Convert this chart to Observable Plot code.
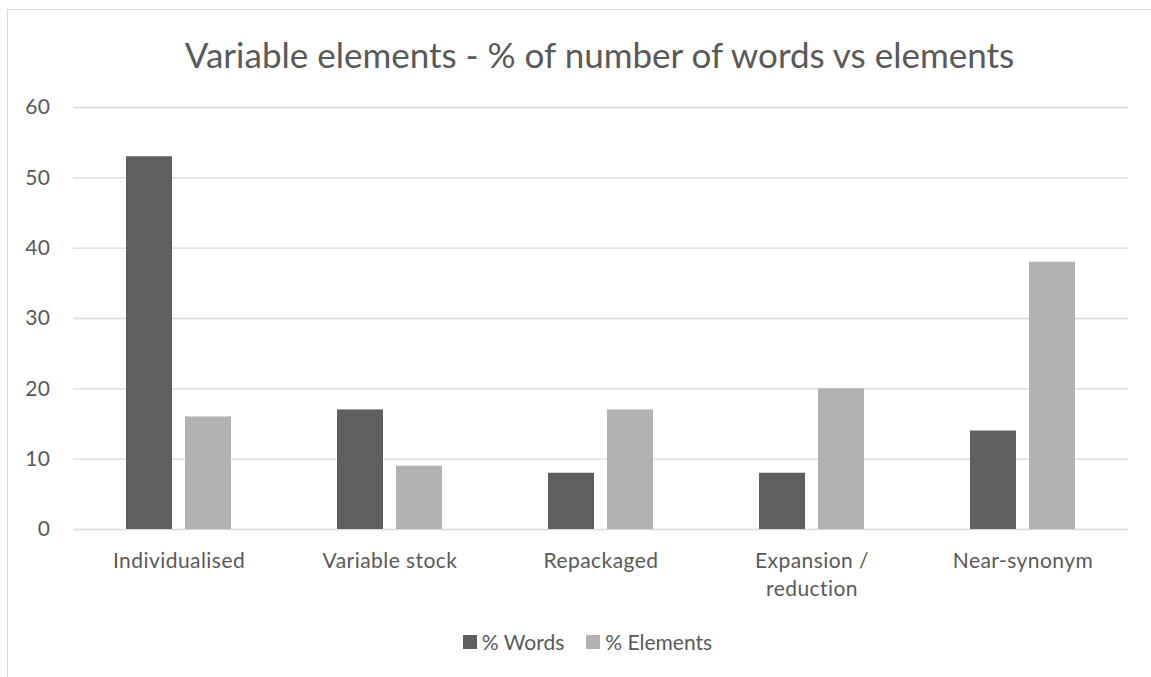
<!DOCTYPE html>
<html>
<head>
<meta charset="utf-8">
<script src="https://cdn.jsdelivr.net/npm/d3@7"></script>
<script src="https://cdn.jsdelivr.net/npm/@observablehq/plot@0.6"></script>
<style>
  html, body { margin: 0; padding: 0; background: #fff; }
  body { width: 1151px; height: 677px; overflow: hidden; position: relative; font-family: Lato, "Open Sans", sans-serif; color: #595959; }
  #frame { position: absolute; left: 7px; top: 9px; width: 1300px; height: 800px; border-left: 1px solid #d9d9d9; border-top: 1px solid #d9d9d9; pointer-events: none; }
  #title { position: absolute; left: 24px; top: 0; width: 1151px; text-align: center; font-size: 35px; line-height: 40px; padding-top: 34px; }
  #chart { position: absolute; left: 0; top: 90px; }
  #legend { position: absolute; left: 0; top: 629px; width: 1151px; display: flex; justify-content: center; align-items: center; font-size: 21px; line-height: 26px; padding-left: 24px; box-sizing: border-box; }
  .item { display: flex; align-items: center; margin: 0 11px; }
  .sw { width: 14px; height: 14px; margin-right: 5px; }
  #chart svg text { letter-spacing: 0.45px; }
</style>
</head>
<body>
<div id="frame"></div>
<div id="title">Variable elements - % of number of words vs elements</div>
<div id="chart"></div>
<div id="legend"></div>
<script>
const categories = ["Individualised", "Variable stock", "Repackaged", "Expansion / reduction", "Near-synonym"];
const categoryLabels = ["Individualised", "Variable stock", "Repackaged", "Expansion /\nreduction", "Near-synonym"];
const seriesNames = ["% Words", "% Elements"];
const wordsValues = [53, 17, 8, 8, 14];
const elementsValues = [16, 9, 17, 20, 38];
const yTicks = [0, 10, 20, 30, 40, 50, 60];
const seriesColors = ["#5f5f5f", "#b2b2b2"];

const data = [];
categories.forEach((c, i) => {
  data.push({category: c, series: seriesNames[0], value: wordsValues[i]});
  data.push({category: c, series: seriesNames[1], value: elementsValues[i]});
});
const labelOf = Object.fromEntries(categories.map((c, i) => [c, categoryLabels[i]]));

const W = 1151, H = 520;
const plot = Plot.plot({
  width: W,
  height: H,
  marginLeft: 71,
  marginRight: 21,
  marginTop: 17,
  marginBottom: 81,
  style: {fontFamily: "Lato, 'Open Sans', sans-serif", color: "#595959", background: "transparent"},
  fx: {domain: categories, padding: 0, label: null, axis: null},
  x: {domain: seriesNames, paddingInner: 0.217, paddingOuter: 0.873, axis: null},
  y: {domain: [0, 60], ticks: yTicks, label: null, axis: null},
  color: {domain: seriesNames, range: seriesColors},
  marks: [
    Plot.ruleY(yTicks, {stroke: "#d9d9d9", strokeWidth: 1.3}),
    Plot.barY(data, {fx: "category", x: "series", y: "value", fill: "series"}),
    Plot.axisY(yTicks, {anchor: "left", tickSize: 0, tickPadding: 23, fontSize: 21, fill: "#595959", label: null}),
    Plot.axisFx({anchor: "bottom", tickSize: 0, tickPadding: 19, fontSize: 21, fill: "#595959", lineHeight: 1.33, label: null, tickFormat: d => labelOf[d]})
  ]
});
document.getElementById("chart").appendChild(plot);

const legend = document.getElementById("legend");
seriesNames.forEach((s, i) => {
  const item = document.createElement("div");
  item.className = "item";
  const sw = document.createElement("div");
  sw.className = "sw";
  sw.style.background = seriesColors[i];
  const t = document.createElement("span");
  t.textContent = s;
  item.appendChild(sw);
  item.appendChild(t);
  legend.appendChild(item);
});
</script>
</body>
</html>
